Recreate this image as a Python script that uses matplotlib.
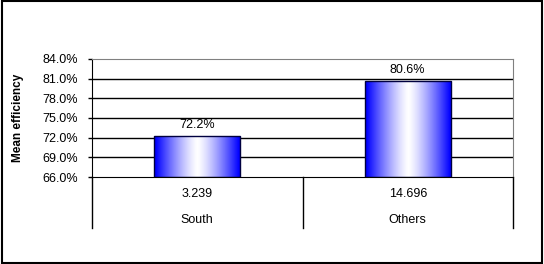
import numpy as np
import matplotlib.pyplot as plt
from matplotlib.patches import Rectangle

# data
categories = ["South", "Others"]
counts = ["3.239", "14.696"]
efficiency = [72.2, 80.6]
yticks = [66, 69, 72, 75, 78, 81, 84]

plt.rcParams['font.family'] = ['Liberation Sans', 'DejaVu Sans']
fs = 9

fig = plt.figure(figsize=(5.44, 2.64), dpi=100)
ax = fig.add_axes([92 / 544, 1 - 177 / 264, 421 / 544, 118 / 264])

ymin, ymax = 66, 84
ax.set_xlim(-0.5, 1.5)
ax.set_ylim(ymin, ymax)

# gridlines (black) below the grey top border
for y in yticks[1:-1]:
    ax.axhline(y, color="black", lw=1, zorder=1)

# bars with blue-white-blue horizontal gradient
xs = np.linspace(0, 1, 200)
t = np.abs(2 * xs - 1)
blue = np.clip(t ** 1.3 * 1.05, 0, 1)
grad = np.ones((1, len(xs), 3))
grad[0, :, 0] = 1 - blue
grad[0, :, 1] = 1 - blue
grad[0, :, 2] = 1.0
width = 0.41
for i, v in enumerate(efficiency):
    x0 = i - width / 2
    im = ax.imshow(grad, extent=[x0, x0 + width, ymin, v], aspect="auto",
                   interpolation="bilinear", zorder=2)
    rect = Rectangle((x0, ymin), width, v - ymin, facecolor="none",
                     edgecolor="#000040", lw=1, zorder=3)
    ax.add_patch(rect)
    im.set_clip_path(rect)
    ax.annotate(f"{v:.1f}%", (i, v), xytext=(0, 4), textcoords="offset points",
                ha="center", va="bottom", fontsize=fs)

ax.set_yticks(yticks)
ax.set_yticklabels([f"{y:.1f}%" for y in yticks], fontsize=fs)
ax.tick_params(axis="y", length=3, width=1, pad=7)
ax.set_xticks([])

ax.spines["top"].set_color("#808080")
ax.spines["right"].set_color("#808080")
ax.spines["left"].set_color("black")
ax.spines["bottom"].set_color("black")

ax.set_ylabel("Mean efficiency", fontsize=8.5, fontweight="bold")
ax.yaxis.set_label_coords(-0.162, 0.5)

# category table under the axis
tb = -51 / 118
for xv in [-0.5, 0.5, 1.5]:
    ax.plot([xv, xv], [0, tb], transform=ax.get_xaxis_transform(), color="black",
            lw=1, clip_on=False)
for i, (c, n) in enumerate(zip(categories, counts)):
    ax.text(i, -17 / 118, n, transform=ax.get_xaxis_transform(), ha="center",
            va="center", fontsize=fs)
    ax.text(i, -43 / 118, c, transform=ax.get_xaxis_transform(), ha="center",
            va="center", fontsize=fs)

# outer border
fig.patches.append(Rectangle((0.003, 0.005), 0.993, 0.99, transform=fig.transFigure,
                             fill=False, edgecolor="black", lw=1.5))

fig.savefig("out.png", dpi=100)
